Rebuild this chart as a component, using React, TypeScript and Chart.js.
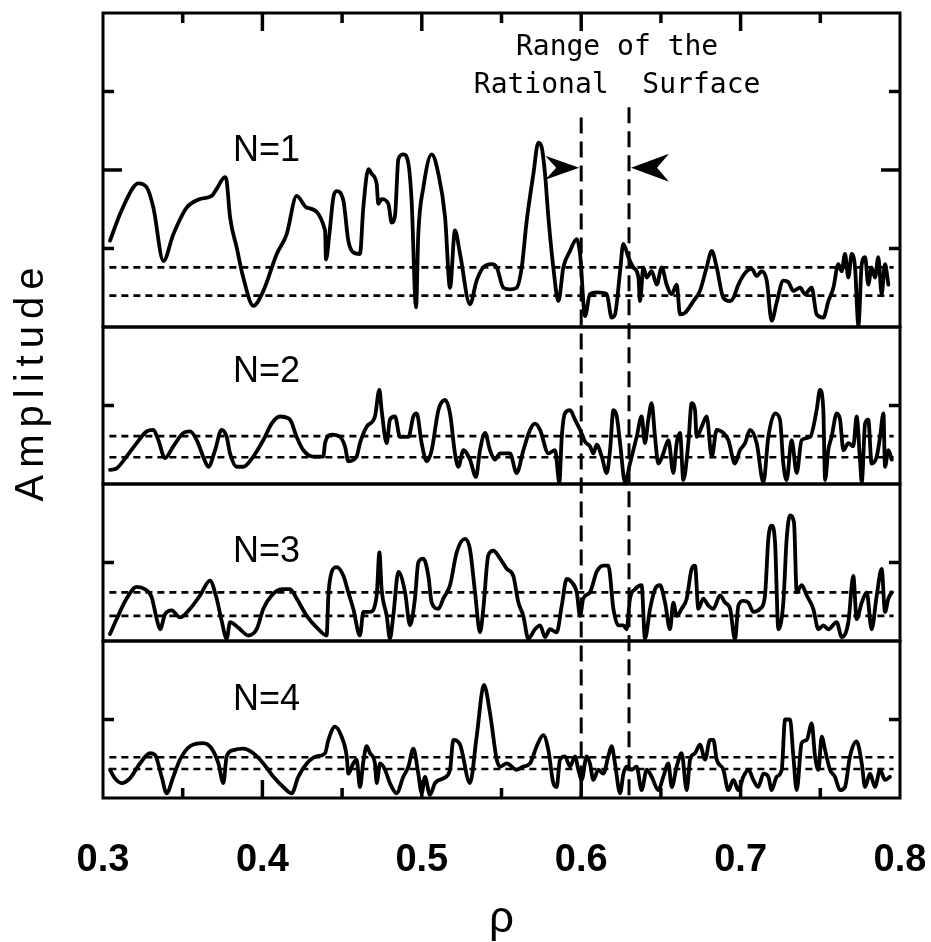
import React, { useEffect, useRef } from 'react';
import { Chart, registerables } from 'chart.js';

Chart.register(...registerables);

// ---- data (rho, amplitude) ----
const n1Trace: [number, number][] = [
  [0.3044, 1.10], [0.3107, 1.44], [0.3190, 1.78], [0.3222, 1.83], [0.3274, 1.78], [0.3316, 1.52], [0.3379, 0.84], [0.3441, 1.18], [0.3525, 1.52], [0.3609, 1.63],
  [0.3682, 1.67], [0.3713, 1.76], [0.3765, 1.91], [0.3776, 1.86], [0.3797, 1.40], [0.3839, 1.01], [0.3880, 0.63], [0.3943, 0.27], [0.4006, 0.46], [0.4090, 0.93],
  [0.4152, 1.18], [0.4215, 1.67], [0.4278, 1.52], [0.4393, 1.23], [0.4399, 0.86], [0.4420, 1.18], [0.4445, 1.65], [0.4466, 1.73], [0.4508, 1.61], [0.4539, 1.10],
  [0.4570, 0.95], [0.4612, 0.93], [0.4633, 1.52], [0.4665, 2.01], [0.4686, 1.95], [0.4717, 1.82], [0.4727, 1.57], [0.4748, 1.63], [0.4790, 1.57], [0.4811, 1.33],
  [0.4832, 1.42], [0.4853, 2.14], [0.4884, 2.20], [0.4916, 2.08], [0.4936, 1.61], [0.4964, 0.25], [0.4978, 1.18], [0.5010, 1.78], [0.5062, 2.20], [0.5104, 1.95],
  [0.5146, 1.40], [0.5177, 0.50], [0.5208, 1.23], [0.5240, 0.93], [0.5302, 0.29], [0.5344, 0.59], [0.5386, 0.76], [0.5438, 0.80], [0.5470, 0.76], [0.5512, 0.50],
  [0.5553, 0.48], [0.5595, 0.50], [0.5627, 0.76], [0.5658, 1.35], [0.5700, 1.95], [0.5731, 2.35], [0.5752, 2.29], [0.5773, 1.95], [0.5794, 1.40], [0.5825, 0.76],
  [0.5857, 0.33], [0.5888, 0.76], [0.5930, 0.97], [0.5972, 1.12], [0.5993, 0.93], [0.6024, 0.14], [0.6055, 0.42], [0.6097, 0.44], [0.6160, 0.42], [0.6191, 0.12],
  [0.6212, 0.16], [0.6244, 0.71], [0.6264, 1.06], [0.6296, 0.89], [0.6327, 0.76], [0.6359, 0.63], [0.6369, 0.33], [0.6390, 0.76], [0.6411, 0.63], [0.6442, 0.71],
  [0.6474, 0.54], [0.6505, 0.76], [0.6536, 0.54], [0.6568, 0.42], [0.6599, 0.54], [0.6620, 0.16], [0.6651, 0.18], [0.6704, 0.33], [0.6745, 0.46], [0.6787, 0.76],
  [0.6819, 0.97], [0.6850, 0.76], [0.6892, 0.37], [0.6934, 0.33], [0.6955, 0.37], [0.6986, 0.54], [0.7038, 0.71], [0.7070, 0.74], [0.7101, 0.65], [0.7132, 0.71],
  [0.7164, 0.59], [0.7195, 0.08], [0.7226, 0.31], [0.7268, 0.59], [0.7300, 0.57], [0.7331, 0.46], [0.7373, 0.50], [0.7404, 0.42], [0.7446, 0.50], [0.7477, 0.16],
  [0.7519, 0.12], [0.7551, 0.33], [0.7582, 0.50], [0.7613, 0.80], [0.7634, 0.71], [0.7655, 0.93], [0.7676, 0.63], [0.7697, 0.93], [0.7718, 0.76], [0.7739, 0.02],
  [0.7760, 0.80], [0.7781, 0.89], [0.7801, 0.54], [0.7822, 0.76], [0.7843, 0.63], [0.7864, 0.89], [0.7885, 0.42], [0.7906, 0.80], [0.7927, 0.54],
];

const n2Trace: [number, number][] = [
  [0.3044, 0.18], [0.3086, 0.20], [0.3148, 0.35], [0.3211, 0.52], [0.3274, 0.67], [0.3316, 0.69], [0.3347, 0.56], [0.3389, 0.33], [0.3441, 0.48], [0.3504, 0.65],
  [0.3546, 0.67], [0.3588, 0.56], [0.3640, 0.29], [0.3661, 0.22], [0.3703, 0.43], [0.3744, 0.69], [0.3776, 0.60], [0.3797, 0.39], [0.3839, 0.22], [0.3880, 0.22],
  [0.3943, 0.35], [0.4006, 0.56], [0.4058, 0.77], [0.4110, 0.86], [0.4173, 0.82], [0.4215, 0.60], [0.4257, 0.43], [0.4320, 0.35], [0.4382, 0.35], [0.4393, 0.52],
  [0.4435, 0.63], [0.4487, 0.60], [0.4518, 0.48], [0.4539, 0.29], [0.4591, 0.35], [0.4612, 0.52], [0.4654, 0.73], [0.4706, 0.86], [0.4734, 1.20], [0.4748, 0.94],
  [0.4780, 0.52], [0.4800, 0.82], [0.4832, 0.86], [0.4863, 0.60], [0.4916, 0.60], [0.4947, 0.86], [0.4968, 0.90], [0.4999, 0.52], [0.5031, 0.29], [0.5062, 0.43],
  [0.5104, 0.94], [0.5146, 1.07], [0.5177, 0.90], [0.5208, 0.39], [0.5229, 0.22], [0.5261, 0.43], [0.5302, 0.31], [0.5340, 0.09], [0.5365, 0.43], [0.5397, 0.65],
  [0.5428, 0.43], [0.5459, 0.31], [0.5491, 0.39], [0.5553, 0.39], [0.5595, 0.14], [0.5637, 0.43], [0.5679, 0.69], [0.5710, 0.77], [0.5742, 0.69], [0.5794, 0.39],
  [0.5836, 0.43], [0.5863, 0.02], [0.5878, 0.60], [0.5898, 0.90], [0.5930, 0.94], [0.5961, 0.82], [0.5993, 0.69], [0.6024, 0.54], [0.6055, 0.48], [0.6076, 0.39],
  [0.6097, 0.50], [0.6129, 0.35], [0.6160, 0.14], [0.6181, 0.43], [0.6202, 0.94], [0.6223, 0.86], [0.6244, 0.52], [0.6275, 0.02], [0.6306, 0.26], [0.6348, 0.60],
  [0.6379, 0.86], [0.6400, 0.52], [0.6421, 0.82], [0.6442, 1.03], [0.6463, 0.60], [0.6484, 0.26], [0.6515, 0.39], [0.6547, 0.56], [0.6578, 0.14], [0.6599, 0.52],
  [0.6620, 0.65], [0.6641, 0.05], [0.6672, 0.52], [0.6693, 1.03], [0.6714, 0.94], [0.6724, 0.60], [0.6756, 0.73], [0.6787, 0.86], [0.6819, 0.35], [0.6850, 0.69],
  [0.6892, 0.65], [0.6923, 0.56], [0.6965, 0.26], [0.6996, 0.43], [0.7028, 0.52], [0.7059, 0.69], [0.7101, 0.52], [0.7143, 0.02], [0.7174, 0.60], [0.7216, 0.90],
  [0.7247, 0.82], [0.7268, 0.26], [0.7289, 0.05], [0.7320, 0.56], [0.7352, 0.14], [0.7383, 0.56], [0.7436, 0.60], [0.7477, 0.94], [0.7498, 1.20], [0.7519, 0.94],
  [0.7530, 0.05], [0.7550, 0.43], [0.7571, 0.60], [0.7603, 0.90], [0.7624, 0.82], [0.7645, 0.43], [0.7676, 0.52], [0.7707, 0.48], [0.7728, 0.86], [0.7749, 0.31],
  [0.7760, 0.02], [0.7781, 0.77], [0.7801, 0.82], [0.7822, 0.26], [0.7854, 0.35], [0.7875, 0.60], [0.7896, 0.90], [0.7906, 0.22], [0.7927, 0.43], [0.7948, 0.31],
];

const n3Trace: [number, number][] = [
  [0.3044, 0.09], [0.3086, 0.28], [0.3148, 0.54], [0.3211, 0.69], [0.3263, 0.66], [0.3305, 0.56], [0.3337, 0.28], [0.3358, 0.15], [0.3389, 0.34], [0.3431, 0.39],
  [0.3483, 0.30], [0.3546, 0.41], [0.3609, 0.58], [0.3671, 0.77], [0.3713, 0.54], [0.3744, 0.26], [0.3776, 0.03], [0.3797, 0.24], [0.3849, 0.17], [0.3912, 0.07],
  [0.3964, 0.15], [0.4006, 0.41], [0.4058, 0.58], [0.4121, 0.66], [0.4173, 0.66], [0.4215, 0.54], [0.4278, 0.32], [0.4351, 0.15], [0.4403, 0.07], [0.4414, 0.58],
  [0.4435, 0.88], [0.4466, 0.94], [0.4508, 0.83], [0.4539, 0.62], [0.4570, 0.41], [0.4612, 0.07], [0.4633, 0.37], [0.4675, 0.37], [0.4717, 0.58], [0.4734, 1.13],
  [0.4748, 0.66], [0.4780, 0.32], [0.4800, 0.03], [0.4821, 0.32], [0.4853, 0.88], [0.4895, 0.62], [0.4926, 0.20], [0.4957, 0.54], [0.4978, 1.00], [0.5010, 1.05],
  [0.5041, 0.83], [0.5062, 0.49], [0.5104, 0.41], [0.5135, 0.54], [0.5177, 0.71], [0.5219, 1.13], [0.5271, 1.30], [0.5302, 1.17], [0.5334, 0.62], [0.5365, 0.11],
  [0.5386, 0.41], [0.5417, 1.09], [0.5449, 1.15], [0.5491, 1.05], [0.5533, 0.92], [0.5574, 0.83], [0.5606, 0.49], [0.5637, 0.32], [0.5668, 0.03], [0.5710, 0.15],
  [0.5742, 0.20], [0.5773, 0.05], [0.5804, 0.15], [0.5846, 0.11], [0.5878, 0.45], [0.5909, 0.79], [0.5940, 0.75], [0.5972, 0.62], [0.5993, 0.32], [0.6013, 0.54],
  [0.6055, 0.62], [0.6097, 0.88], [0.6139, 0.96], [0.6170, 0.96], [0.6202, 0.41], [0.6233, 0.20], [0.6265, 0.20], [0.6285, 0.15], [0.6306, 0.54], [0.6338, 0.66],
  [0.6379, 0.71], [0.6400, 0.03], [0.6432, 0.41], [0.6463, 0.66], [0.6494, 0.71], [0.6526, 0.49], [0.6557, 0.15], [0.6578, 0.49], [0.6599, 0.32], [0.6630, 0.41],
  [0.6662, 0.54], [0.6693, 0.92], [0.6714, 0.96], [0.6735, 0.41], [0.6766, 0.54], [0.6798, 0.45], [0.6829, 0.41], [0.6871, 0.58], [0.6902, 0.49], [0.6934, 0.41],
  [0.6965, 0.02], [0.6986, 0.45], [0.7017, 0.51], [0.7049, 0.49], [0.7080, 0.37], [0.7122, 0.41], [0.7153, 0.58], [0.7174, 1.30], [0.7195, 1.47], [0.7216, 1.26],
  [0.7237, 0.15], [0.7268, 0.49], [0.7289, 1.30], [0.7310, 1.60], [0.7335, 1.51], [0.7352, 0.62], [0.7383, 0.71], [0.7415, 0.58], [0.7456, 0.41], [0.7488, 0.15],
  [0.7519, 0.20], [0.7550, 0.15], [0.7603, 0.24], [0.7634, 0.05], [0.7676, 0.24], [0.7707, 0.83], [0.7728, 0.28], [0.7760, 0.49], [0.7791, 0.62], [0.7822, 0.15],
  [0.7854, 0.58], [0.7885, 0.92], [0.7906, 0.37], [0.7927, 0.54], [0.7948, 0.62],
];

const n4Trace: [number, number][] = [
  [0.3044, 0.36], [0.3075, 0.25], [0.3117, 0.19], [0.3169, 0.25], [0.3232, 0.44], [0.3295, 0.57], [0.3326, 0.55], [0.3368, 0.27], [0.3399, 0.06], [0.3441, 0.27],
  [0.3483, 0.49], [0.3546, 0.66], [0.3629, 0.70], [0.3682, 0.63], [0.3724, 0.44], [0.3755, 0.19], [0.3776, 0.53], [0.3818, 0.61], [0.3880, 0.63], [0.3943, 0.57],
  [0.4006, 0.44], [0.4069, 0.27], [0.4131, 0.14], [0.4184, 0.06], [0.4225, 0.27], [0.4278, 0.44], [0.4340, 0.53], [0.4393, 0.57], [0.4414, 0.74], [0.4455, 0.91],
  [0.4497, 0.78], [0.4529, 0.53], [0.4539, 0.31], [0.4570, 0.44], [0.4591, 0.49], [0.4612, 0.14], [0.4633, 0.46], [0.4654, 0.66], [0.4675, 0.57], [0.4706, 0.44],
  [0.4717, 0.19], [0.4738, 0.44], [0.4769, 0.36], [0.4800, 0.19], [0.4842, 0.06], [0.4884, 0.27], [0.4916, 0.40], [0.4947, 0.63], [0.4978, 0.31], [0.4999, 0.06],
  [0.5020, 0.27], [0.5051, 0.04], [0.5083, 0.19], [0.5135, 0.25], [0.5177, 0.36], [0.5198, 0.74], [0.5240, 0.68], [0.5302, 0.19], [0.5344, 0.78], [0.5390, 1.44],
  [0.5428, 1.08], [0.5470, 0.49], [0.5491, 0.40], [0.5533, 0.44], [0.5595, 0.36], [0.5637, 0.40], [0.5679, 0.44], [0.5721, 0.66], [0.5762, 0.80], [0.5794, 0.61],
  [0.5825, 0.19], [0.5846, 0.14], [0.5867, 0.49], [0.5898, 0.53], [0.5930, 0.40], [0.5961, 0.53], [0.5982, 0.36], [0.6003, 0.23], [0.6034, 0.53], [0.6055, 0.44],
  [0.6076, 0.23], [0.6108, 0.36], [0.6139, 0.31], [0.6170, 0.53], [0.6191, 0.66], [0.6212, 0.44], [0.6244, 0.06], [0.6265, 0.31], [0.6285, 0.40], [0.6317, 0.36],
  [0.6348, 0.40], [0.6379, 0.10], [0.6411, 0.36], [0.6442, 0.27], [0.6484, 0.10], [0.6515, 0.27], [0.6547, 0.44], [0.6568, 0.14], [0.6599, 0.40], [0.6630, 0.57],
  [0.6662, 0.10], [0.6683, 0.49], [0.6714, 0.57], [0.6745, 0.68], [0.6777, 0.49], [0.6808, 0.74], [0.6829, 0.74], [0.6850, 0.49], [0.6892, 0.36], [0.6923, 0.10],
  [0.6955, 0.23], [0.6986, 0.10], [0.7017, 0.27], [0.7049, 0.36], [0.7080, 0.23], [0.7111, 0.14], [0.7143, 0.31], [0.7174, 0.27], [0.7195, 0.10], [0.7226, 0.27],
  [0.7258, 0.36], [0.7279, 1.00], [0.7310, 1.00], [0.7331, 0.53], [0.7352, 0.10], [0.7383, 0.70], [0.7415, 0.74], [0.7446, 0.95], [0.7467, 0.53], [0.7488, 0.36],
  [0.7509, 0.78], [0.7530, 0.61], [0.7561, 0.36], [0.7592, 0.27], [0.7624, 0.10], [0.7655, 0.14], [0.7686, 0.53], [0.7728, 0.72], [0.7760, 0.44], [0.7781, 0.14],
  [0.7812, 0.31], [0.7843, 0.14], [0.7875, 0.36], [0.7906, 0.23], [0.7937, 0.27],
];

// dashed reference levels per panel
const n1Levels = [0.76, 0.40];
const n2Levels = [0.61, 0.34];
const n3Levels = [0.62, 0.32];
const n4Levels = [0.52, 0.37];
const levelSpan = [0.304, 0.796];

const panelNames = ['N=1', 'N=2', 'N=3', 'N=4'];
const panelMax = [4, 2, 2, 2];
const panelLabelY = [2.12, 1.30, 1.01, 1.12];
const panelLabelRho = 0.3816;

const xTickValues = [0.3, 0.4, 0.5, 0.6, 0.7, 0.8];
const xTickLabels = ['0.3', '0.4', '0.5', '0.6', '0.7', '0.8'];
const xMinorValues = [0.35, 0.4, 0.45, 0.5, 0.55, 0.6, 0.65, 0.7, 0.75];

const rationalRange = [0.6, 0.63];
const rationalTop = [2.67, 2.8];
const arrowLevel = 2.03;
const rangeText = ['Range of the', 'Rational  Surface'];
const rangeTextY = [3.46, 2.98];
const rangeTextRho = 0.6225;

const SANS = "'Liberation Sans', Arial, Helvetica, sans-serif";
const MONO = "'DejaVu Sans Mono', 'Liberation Mono', monospace";

const traces = [n1Trace, n2Trace, n3Trace, n4Trace];
const levels = [n1Levels, n2Levels, n3Levels, n4Levels];
const yIds = ['y1', 'y2', 'y3', 'y4'];

const decorPlugin = {
  id: 'decor',
  afterDraw(chart: any) {
    const ctx: CanvasRenderingContext2D = chart.ctx;
    const { left, right, top, bottom } = chart.chartArea;
    const xs = chart.scales.x;
    const ys = yIds.map((id) => chart.scales[id]);
    const seg = (x1: number, y1: number, x2: number, y2: number) => {
      ctx.beginPath();
      ctx.moveTo(x1, y1);
      ctx.lineTo(x2, y2);
      ctx.stroke();
    };
    ctx.save();
    ctx.strokeStyle = '#000';
    ctx.fillStyle = '#000';
    ctx.lineWidth = 3;
    ctx.setLineDash([]);
    // panel frames
    ys.forEach((s: any) => ctx.strokeRect(left, s.top, right - left, s.bottom - s.top));
    // inward y ticks
    ctx.lineWidth = 3.5;
    ys.forEach((s: any, i: number) => {
      for (let v = 1; v < panelMax[i]; v++) {
        const len = i === 0 && v === 2 ? 19 : 11;
        const py = s.getPixelForValue(v);
        seg(left, py, left + len, py);
        seg(right, py, right - len, py);
      }
    });
    // inward x ticks top & bottom
    xMinorValues.forEach((v) => {
      const major = Math.round(v * 100) % 10 === 0;
      const len = major ? 18 : 10;
      const px = xs.getPixelForValue(v);
      seg(px, top, px, top + len);
      seg(px, bottom, px, bottom - len);
    });
    ctx.lineWidth = 3;
    // vertical dashed lines: range of rational surface
    ctx.setLineDash([16, 8]);
    rationalRange.forEach((r, i) => {
      const px = xs.getPixelForValue(r);
      seg(px, ys[0].getPixelForValue(rationalTop[i]), px, bottom);
    });
    ctx.setLineDash([]);
    // arrows
    const ay = ys[0].getPixelForValue(arrowLevel);
    const a1 = xs.getPixelForValue(rationalRange[0]) - 2;
    ctx.beginPath();
    ctx.moveTo(a1, ay);
    ctx.lineTo(a1 - 34, ay - 12);
    ctx.lineTo(a1 - 23, ay);
    ctx.lineTo(a1 - 34, ay + 12);
    ctx.closePath();
    ctx.fill();
    const a2 = xs.getPixelForValue(rationalRange[1]) + 2;
    ctx.beginPath();
    ctx.moveTo(a2, ay);
    ctx.lineTo(a2 + 38, ay - 14);
    ctx.lineTo(a2 + 26, ay);
    ctx.lineTo(a2 + 38, ay + 14);
    ctx.closePath();
    ctx.fill();
    // range text
    ctx.font = `28px ${MONO}`;
    ctx.textAlign = 'center';
    ctx.textBaseline = 'alphabetic';
    rangeText.forEach((t, i) => {
      ctx.fillText(t, xs.getPixelForValue(rangeTextRho), ys[0].getPixelForValue(rangeTextY[i]));
    });
    // panel labels
    ctx.font = `36px ${SANS}`;
    ctx.textAlign = 'left';
    panelNames.forEach((n, i) => {
      ctx.fillText(n, xs.getPixelForValue(panelLabelRho), ys[i].getPixelForValue(panelLabelY[i]));
    });
    // y title
    ctx.save();
    ctx.translate(43, 381);
    ctx.rotate(-Math.PI / 2);
    ctx.font = `40px ${SANS}`;
    (ctx as any).letterSpacing = '7px';
    ctx.textAlign = 'center';
    ctx.fillText('Amplitude', 0, 0);
    ctx.restore();
    ctx.restore();
  },
};

export default function App() {
  const ref = useRef<HTMLCanvasElement | null>(null);
  useEffect(() => {
    if (!ref.current) return;
    const datasets: any[] = [];
    traces.forEach((t, i) => {
      datasets.push({
        data: t.map(([x, y]) => ({ x, y })),
        yAxisID: yIds[i],
        borderColor: '#000',
        borderWidth: 3.8,
        borderJoinStyle: 'round',
        borderCapStyle: 'round',
        pointRadius: 0,
        cubicInterpolationMode: 'monotone',
        fill: false,
      });
      levels[i].forEach((lv) => {
        datasets.push({
          data: [
            { x: levelSpan[0], y: lv },
            { x: levelSpan[1], y: lv },
          ],
          yAxisID: yIds[i],
          borderColor: '#000',
          borderWidth: 2.6,
          borderDash: [7, 5],
          pointRadius: 0,
          fill: false,
        });
      });
    });
    const yAxis = (max: number, weight: number) => ({
      type: 'linear',
      min: 0,
      max,
      stack: 'amp',
      stackWeight: weight,
      position: 'left',
      offset: false,
      ticks: { display: false },
      grid: { display: false, drawTicks: false },
      border: { display: false },
      afterFit: (s: any) => {
        s.width = 103;
      },
    });
    const chart = new Chart(ref.current, {
      type: 'line',
      data: { datasets },
      plugins: [decorPlugin],
      options: {
        animation: false,
        responsive: false,
        events: [],
        layout: { padding: { top: 13, right: 31, left: 0, bottom: 0 } },
        plugins: { legend: { display: false }, tooltip: { enabled: false } },
        scales: {
          x: {
            type: 'linear',
            min: 0.3,
            max: 0.8,
            afterBuildTicks: (s: any) => {
              s.ticks = xTickValues.map((v) => ({ value: v }));
            },
            ticks: {
              autoSkip: false,
              maxRotation: 0,
              padding: 40,
              color: '#000',
              font: { family: SANS, size: 38, weight: 'bold' },
              callback: (_v: any, i: number) => xTickLabels[i],
            },
            grid: { display: false, drawTicks: false },
            border: { display: false },
            title: {
              display: true,
              text: 'ρ',
              color: '#000',
              font: { family: SANS, size: 44, lineHeight: 1.0 },
              padding: { top: 0, bottom: 0 },
            },
            afterFit: (s: any) => {
              s.height = 144;
              s.paddingLeft = 0;
              s.paddingRight = 0;
            },
          },
          // stacked axes are placed bottom-up in listing order
          y4: yAxis(2, 2),
          y3: yAxis(2, 2),
          y2: yAxis(2, 2),
          y1: yAxis(4, 4),
        } as any,
      },
    } as any);
    return () => chart.destroy();
  }, []);
  return (
    <div style={{ position: 'absolute', left: 0, top: 0, width: 931, height: 942, background: '#fff' }}>
      <canvas ref={ref} width={931} height={942} style={{ display: 'block' }} />
    </div>
  );
}
